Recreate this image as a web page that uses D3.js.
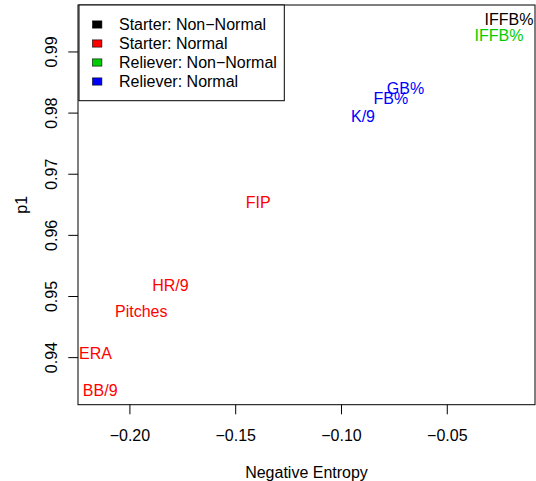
<!DOCTYPE html>
<meta charset="utf-8">
<style>
    body { margin: 0; background: #fff; }
    svg text { font-family: "Liberation Sans", Arial, Helvetica, sans-serif; font-size: 16px; }
    .tick line { stroke: #000; }
</style>
<svg width="536" height="481"></svg>
<script src="https://d3js.org/d3.v7.min.js"></script>
<script>
    // variables shown in the plot
    var labels = ["IFFB%", "IFFB%", "GB%", "FB%", "K/9", "FIP", "HR/9", "Pitches", "ERA", "BB/9"];
    var negEntropy = [-0.0206, -0.0253, -0.0695, -0.0764, -0.0896, -0.1391, -0.1806, -0.1944, -0.2160, -0.2138];
    var p1 = [0.9952, 0.9926, 0.9840, 0.9823, 0.9794, 0.9654, 0.9518, 0.9475, 0.9407, 0.9346];
    var groups = [0, 2, 3, 3, 3, 1, 1, 1, 1, 1];

    // legend
    var groupNames = ["Starter: Non\u2212Normal", "Starter: Normal", "Reliever: Non\u2212Normal", "Reliever: Normal"];
    var groupColors = ["#000000", "#FF0000", "#00CD00", "#0000FF"];

    // ticks
    var xTicks = [-0.20, -0.15, -0.10, -0.05];
    var yTicks = [0.94, 0.95, 0.96, 0.97, 0.98, 0.99];

    var svg = d3.select("svg");
    var plotL = 78, plotR = 535, plotT = 5, plotB = 404.7;

    var x = d3.scaleLinear().domain([-0.2243, -0.0083]).range([plotL, plotR]);
    var y = d3.scaleLinear().domain([0.93222, 0.9976]).range([plotB, plotT]);

    // x axis
    var xAxis = svg.append("g")
        .attr("transform", "translate(0," + plotB + ")")
        .call(d3.axisBottom(x).tickValues(xTicks).tickSize(9.6).tickFormat(d3.format(".2f")));
    xAxis.select(".domain").remove();
    xAxis.selectAll("text").attr("font-size", 16).attr("fill", "#000")
        .attr("dy", null).attr("y", 36);

    // y axis
    var yAxis = svg.append("g")
        .attr("transform", "translate(" + plotL + ",0)")
        .call(d3.axisLeft(y).tickValues(yTicks).tickSize(9.7).tickFormat(d3.format(".2f")));
    yAxis.select(".domain").remove();
    yAxis.selectAll("text")
        .attr("x", null).attr("dy", null)
        .attr("font-size", 16).attr("fill", "#000")
        .attr("text-anchor", "middle")
        .attr("transform", "translate(-21,0) rotate(-90)");

    // plot box
    svg.append("rect")
        .attr("x", plotL).attr("y", plotT)
        .attr("width", plotR - plotL).attr("height", plotB - plotT)
        .attr("fill", "none").attr("stroke", "#000").attr("stroke-width", 1);

    // axis titles
    svg.append("text")
        .attr("x", (plotL + plotR) / 2).attr("y", 477.5)
        .attr("text-anchor", "middle")
        .text("Negative Entropy");
    svg.append("text")
        .attr("transform", "translate(27," + (plotT + plotB) / 2 + ") rotate(-90)")
        .attr("text-anchor", "middle")
        .text("p1");

    // labels as points
    svg.append("g").selectAll("text")
        .data(labels)
        .enter().append("text")
        .attr("x", function (d, i) { return x(negEntropy[i]); })
        .attr("y", function (d, i) { return y(p1[i]) + 5.8; })
        .attr("text-anchor", "middle")
        .attr("fill", function (d, i) { return groupColors[groups[i]]; })
        .text(function (d) { return d; });

    // legend
    var legend = svg.append("g");
    legend.append("rect")
        .attr("x", 79).attr("y", 5).attr("width", 205.3).attr("height", 95.7)
        .attr("fill", "#fff").attr("stroke", "#000");
    var rows = legend.selectAll("g.row")
        .data(groupNames)
        .enter().append("g")
        .attr("class", "row")
        .attr("transform", function (d, i) { return "translate(0," + (24.5 + i * 19) + ")"; });
    rows.append("rect")
        .attr("x", 92.5).attr("y", -3.6).attr("width", 9.4).attr("height", 7.2)
        .attr("fill", function (d, i) { return groupColors[i]; })
        .attr("stroke", "#000").attr("stroke-width", 0.6);
    rows.append("text")
        .attr("x", 119).attr("y", 5.8)
        .text(function (d) { return d; });
</script>
